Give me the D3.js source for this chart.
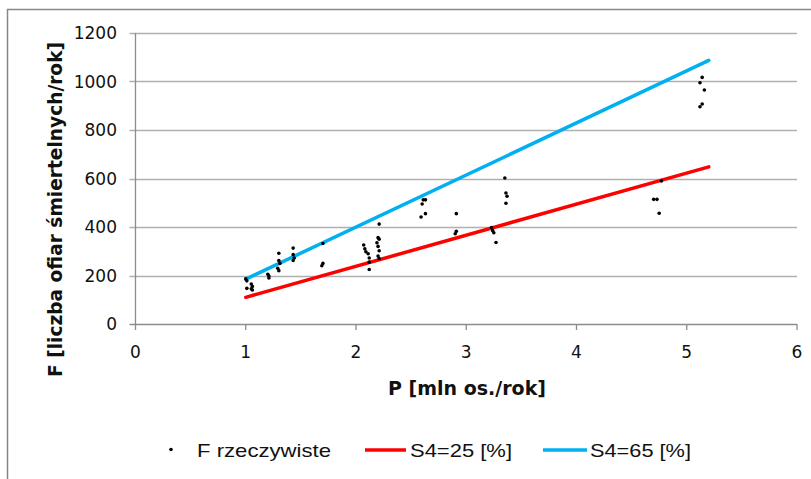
<!DOCTYPE html>
<html>
<head>
<meta charset="utf-8">
<script src="https://cdn.jsdelivr.net/npm/d3@7"></script>
<style>
  html, body { margin: 0; padding: 0; background: #fff; }
  svg { display: block; }
</style>
</head>
<body>
<svg id="chart" width="811" height="479"></svg>
<script>
// ---- data ----
const pointsP = [1.00,1.01,1.01,1.05,1.06,1.05,1.06,
  1.20,1.21,1.21,
  1.30,1.30,1.31,1.29,1.30,
  1.43,1.43,1.44,1.43,
  1.70,1.70,1.69,
  2.07,2.08,2.09,2.11,2.12,2.12,2.12,
  2.21,2.20,2.21,2.19,2.20,2.21,2.20,2.21,
  2.61,2.63,2.60,2.59,2.63,
  2.91,2.91,2.90,
  3.23,3.24,3.25,3.27,
  3.35,3.36,3.37,3.36,
  4.77,4.70,4.73,4.75,
  5.14,5.12,5.16,5.14,5.12];
const pointsF = [186,178,147,165,155,145,140,
  205,198,190,
  292,262,250,230,220,
  313,286,272,262,
  332,250,240,
  326,310,298,290,272,255,225,
  412,356,350,335,320,302,280,270,
  512,512,495,441,455,
  455,382,372,
  398,385,376,336,
  602,540,527,498,
  590,514,514,457,
  1017,995,965,907,896];
const lineP = [1.0, 5.2];
const s25 = [110, 648];
const s65 = [185, 1087];
const xTicks = [0,1,2,3,4,5,6];
const yTicks = [0,200,400,600,800,1000,1200];
const seriesNames = ["F rzeczywiste", "S4=25 [%]", "S4=65 [%]"];
const xTitle = "P [mln os./rok]";
const yTitle = "F [liczba ofiar śmiertelnych/rok]";

// ---- chart ----
const svg = d3.select("#chart");
const x = d3.scaleLinear().domain([0,6]).range([135.5, 797]);
const y = d3.scaleLinear().domain([0,1200]).range([324, 33]);
const tickFont = "'DejaVu Sans', sans-serif";

// outer frame
svg.append("rect").attr("x",7.5).attr("y",9.5).attr("width",830).attr("height",500)
  .attr("fill","none").attr("stroke","#878787").attr("stroke-width",1.5);

// gridlines + y ticks
svg.append("g").selectAll("line").data(yTicks).join("line")
  .attr("x1", x(0)-6).attr("x2", x(6))
  .attr("y1", d => Math.round(y(d))+0.5).attr("y2", d => Math.round(y(d))+0.5)
  .attr("stroke", d => d===0 ? "#8c8c8c" : "#b0b0b0").attr("stroke-width",1.3);

// y axis line
svg.append("line").attr("x1", x(0)).attr("x2", x(0)).attr("y1", y(1200)).attr("y2", y(0))
  .attr("stroke","#8c8c8c").attr("stroke-width",1.3);

// x axis ticks
svg.append("g").selectAll("line").data(xTicks).join("line")
  .attr("x1", d => x(d)).attr("x2", d => x(d))
  .attr("y1", y(0)).attr("y2", y(0)+6)
  .attr("stroke","#8c8c8c").attr("stroke-width",1.3);

// y tick labels
svg.append("g").selectAll("text").data(yTicks).join("text")
  .attr("x", 117).attr("y", d => y(d)+6)
  .attr("text-anchor","end").attr("font-family",tickFont).attr("font-size",17)
  .attr("fill","#111").text(d => d);

// x tick labels
svg.append("g").selectAll("text").data(xTicks).join("text")
  .attr("x", d => x(d)).attr("y", 358)
  .attr("text-anchor","middle").attr("font-family",tickFont).attr("font-size",17)
  .attr("fill","#111").text(d => d);

// lines
const lineGen = d3.line().x(d => x(d[0])).y(d => y(d[1]));
svg.append("path").datum(lineP.map((p,i)=>[p,s25[i]])).attr("d",lineGen)
  .attr("fill","none").attr("stroke","#ff0000").attr("stroke-width",3.5).attr("stroke-linecap","round");
svg.append("path").datum(lineP.map((p,i)=>[p,s65[i]])).attr("d",lineGen)
  .attr("fill","none").attr("stroke","#00b0f0").attr("stroke-width",3.5).attr("stroke-linecap","round");

// points
svg.append("g").selectAll("circle").data(pointsP.map((p,i)=>[p,pointsF[i]])).join("circle")
  .attr("cx", d => x(d[0])).attr("cy", d => y(d[1])).attr("r",1.8).attr("fill","#000");

// axis titles
svg.append("text").attr("x", 467).attr("y", 395).attr("text-anchor","middle")
  .attr("font-family","'DejaVu Sans', sans-serif").attr("font-weight","bold").attr("font-size",19)
  .attr("textLength",158).attr("lengthAdjust","spacingAndGlyphs")
  .attr("fill","#111").text(xTitle);
svg.append("text").attr("transform","translate(62,209.5) rotate(-90)").attr("text-anchor","middle")
  .attr("font-family","'DejaVu Sans', sans-serif").attr("font-weight","bold").attr("font-size",20)
  .attr("textLength",335).attr("lengthAdjust","spacingAndGlyphs")
  .attr("fill","#111").text(yTitle);

// legend
const lg = svg.append("g");
lg.append("circle").attr("cx",171).attr("cy",449.5).attr("r",1.8).attr("fill","#000");
lg.append("text").attr("x",197).attr("y",457).attr("font-family","'Liberation Sans', sans-serif")
  .attr("font-size",18.5).attr("textLength",134).attr("lengthAdjust","spacingAndGlyphs")
  .attr("fill","#111").text(seriesNames[0]);
lg.append("line").attr("x1",365).attr("x2",406).attr("y1",450).attr("y2",450)
  .attr("stroke","#ff0000").attr("stroke-width",3.5);
lg.append("text").attr("x",410).attr("y",457).attr("font-family","'Liberation Sans', sans-serif")
  .attr("font-size",18.5).attr("textLength",102).attr("lengthAdjust","spacingAndGlyphs")
  .attr("fill","#111").text(seriesNames[1]);
lg.append("line").attr("x1",543).attr("x2",587).attr("y1",450).attr("y2",450)
  .attr("stroke","#00b0f0").attr("stroke-width",3.5);
lg.append("text").attr("x",590).attr("y",457).attr("font-family","'Liberation Sans', sans-serif")
  .attr("font-size",18.5).attr("textLength",101).attr("lengthAdjust","spacingAndGlyphs")
  .attr("fill","#111").text(seriesNames[2]);
</script>
</body>
</html>
